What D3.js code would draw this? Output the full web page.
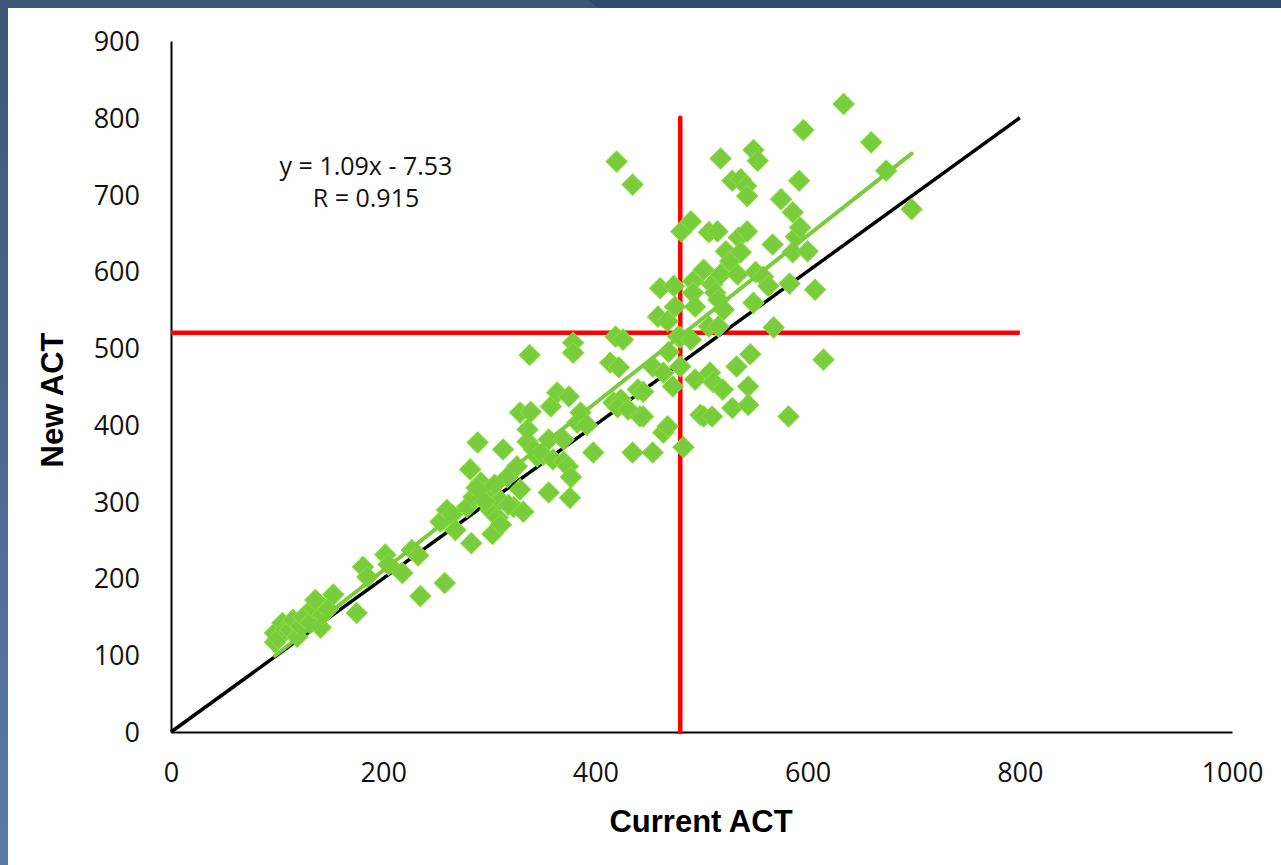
<!DOCTYPE html>
<html>
<head>
<meta charset="utf-8">
<script src="https://cdn.jsdelivr.net/npm/d3@7"></script>
<style>
	body { margin: 0; background: #fff; }
	svg { display: block; }
	.tick text { font-family: "Open Sans", sans-serif; font-size: 27px; fill: #111; }
	.axis-title { font-family: "Liberation Sans", Arial, sans-serif; font-weight: bold; font-size: 31px; fill: #000; }
	.eq { font-family: "Open Sans", sans-serif; font-size: 25px; fill: #111; }
</style>
</head>
<body>
<script>
// values: current ACT (x) and new ACT (y)
const currentAct = [
	98, 98, 101, 105, 108, 112, 115, 119, 122, 125, 131, 134, 136, 141, 143, 148, 153, 175, 181, 185,
	202, 205, 218, 227, 235, 233, 258,
	254, 259, 260, 265, 268, 279, 282, 283, 285, 289, 292, 298, 301, 308, 310, 313, 317, 323, 326, 329,
	332, 336, 336, 329, 339, 342, 345, 351, 356, 356, 358, 360, 364, 370, 370, 374, 375, 376, 377, 379,
	379, 338, 383, 386, 392, 398, 303, 311, 318, 288, 296, 305,
	414, 419, 422, 426, 417, 424, 421, 431, 440, 442, 445, 445, 435, 454, 454, 459, 461, 464, 468, 464,
	468, 469, 473, 474, 475, 478, 480, 480, 481, 483, 490, 490, 492, 492, 494, 494, 420, 435,
	499, 502, 502, 507, 507, 508, 510, 510, 511, 513, 515, 516, 516, 518, 518, 520, 521, 523, 527, 529,
	529, 533, 534, 535, 537, 537, 542, 543, 543, 544, 544, 546, 549, 549, 551, 553, 558, 563, 567, 568,
	575, 582, 583, 586, 586, 589, 592, 593, 596, 600, 607, 615, 634, 660, 674, 698
];
const newAct = [
	117, 129, 122, 142, 133, 133, 146, 124, 138, 150, 142, 162, 172, 136, 153, 160, 179, 155, 215, 202,
	231, 218, 207, 237, 177, 230, 194,
	274, 280, 289, 283, 263, 293, 342, 246, 306, 377, 325, 312, 289, 279, 302, 368, 332, 293, 346, 316,
	287, 378, 394, 416, 417, 368, 359, 361, 381, 312, 424, 355, 442, 381, 352, 346, 437, 305, 332, 507,
	494, 491, 403, 416, 400, 364, 258, 270, 296, 318, 300, 322,
	481, 515, 475, 511, 429, 433, 423, 420, 446, 411, 443, 411, 364, 364, 476, 541, 578, 468, 535, 390,
	398, 495, 450, 581, 554, 515, 476, 514, 652, 371, 665, 511, 587, 572, 554, 459, 743, 713,
	413, 602, 411, 651, 528, 468, 583, 411, 456, 572, 652, 563, 528, 596, 747, 446, 550, 626, 613, 718,
	422, 476, 596, 644, 625, 720, 711, 698, 652, 450, 426, 492, 758, 559, 599, 744, 593, 581, 635, 527,
	694, 411, 584, 677, 625, 645, 718, 657, 784, 626, 576, 485, 818, 768, 731, 681
];
const xTicks = [0, 200, 400, 600, 800, 1000];
const yTicks = [0, 100, 200, 300, 400, 500, 600, 700, 800, 900];
const slope = 1.09;
const intercept = -7.53;
const rValue = 0.915;
const limitX = 480;   // vertical red line
const limitY = 520;   // horizontal red line
const diagMax = 800;  // y = x reference line

const width = 1281, height = 865;
const svg = d3.select("body").append("svg")
	.attr("width", width)
	.attr("height", height);

// slide frame
const defs = svg.append("defs");
const grad = defs.append("linearGradient").attr("id", "side")
	.attr("x1", 0).attr("y1", 0).attr("x2", 0).attr("y2", 1);
grad.append("stop").attr("offset", "0%").attr("stop-color", "#3b5679");
grad.append("stop").attr("offset", "100%").attr("stop-color", "#5b7aa8");
svg.append("rect").attr("x", 0).attr("y", 0).attr("width", 8).attr("height", height).attr("fill", "url(#side)");
svg.append("rect").attr("x", 0).attr("y", 0).attr("width", width).attr("height", 8).attr("fill", "#2f4a70");
svg.append("path").attr("d", "M0,0 L588,0 L598,8 L0,8 Z").attr("fill", "#3d5679");

let x = d3.scaleLinear().domain([0, 1000]).range([171, 1232]);
let y = d3.scaleLinear().domain([0, 900]).range([732, 41]);

// axes without tick marks
svg.append("g")
	.attr("transform", `translate(0,${y(0)})`)
	.call(d3.axisBottom(x).tickValues(xTicks).tickSize(0).tickPadding(31).tickFormat(d3.format("d")))
	.call(g => g.select(".domain").attr("stroke", "#000").attr("stroke-width", 2));
svg.append("g")
	.attr("transform", `translate(${x(0)},0)`)
	.call(d3.axisLeft(y).tickValues(yTicks).tickSize(0).tickPadding(31).tickFormat(d3.format("d")))
	.call(g => g.select(".domain").attr("stroke", "#000").attr("stroke-width", 2))
	.call(g => g.selectAll(".tick text").attr("dy", "0.35em"));

// red threshold lines
svg.append("line")
	.attr("x1", x(0)).attr("x2", x(diagMax))
	.attr("y1", y(limitY)).attr("y2", y(limitY))
	.attr("stroke", "#ff0000").attr("stroke-width", 4.5);
svg.append("line")
	.attr("x1", x(limitX)).attr("x2", x(limitX))
	.attr("y1", y(0)).attr("y2", y(diagMax))
	.attr("stroke", "#ff0000").attr("stroke-width", 4.5).attr("stroke-linecap", "round");

// y = x line
svg.append("line")
	.attr("x1", x(0)).attr("y1", y(0))
	.attr("x2", x(diagMax)).attr("y2", y(diagMax))
	.attr("stroke", "#000").attr("stroke-width", 3.5);

// points
let data = currentAct.map((c, i) => ({cur: c, nw: newAct[i]}));
svg.selectAll(".pt")
	.data(data)
	.join(
		enter => enter.append("path")
			.attr("class", "pt")
			.attr("d", d3.symbol(d3.symbolSquare, 225))
			.attr("transform", d => `translate(${x(d.cur)},${y(d.nw)}) rotate(45)`)
			.attr("fill", "#79cc3b")
			.attr("stroke", "#84dc3c")
			.attr("stroke-width", 1)
	);

// trend line
let xr = d3.extent(currentAct);
let trend = xr.map(v => ({x: x(v), y: y(slope * v + intercept)}));
svg.append("path")
	.datum(trend)
	.attr("d", d3.line().x(d => d.x).y(d => d.y))
	.attr("stroke", "#7acc3c")
	.attr("stroke-width", 4)
	.attr("stroke-linecap", "round")
	.attr("fill", "none");

// equation
svg.append("text").attr("class", "eq")
	.attr("x", 366).attr("y", 175).attr("text-anchor", "middle")
	.text(`y = ${slope}x - ${Math.abs(intercept)}`);
svg.append("text").attr("class", "eq")
	.attr("x", 366).attr("y", 207).attr("text-anchor", "middle")
	.text(`R = ${rValue}`);

// axis titles
svg.append("text").attr("class", "axis-title")
	.attr("x", 701).attr("y", 832).attr("text-anchor", "middle")
	.text("Current ACT");
svg.append("text").attr("class", "axis-title")
	.attr("transform", "translate(63,400) rotate(-90)")
	.attr("text-anchor", "middle")
	.text("New ACT");
</script>
</body>
</html>
